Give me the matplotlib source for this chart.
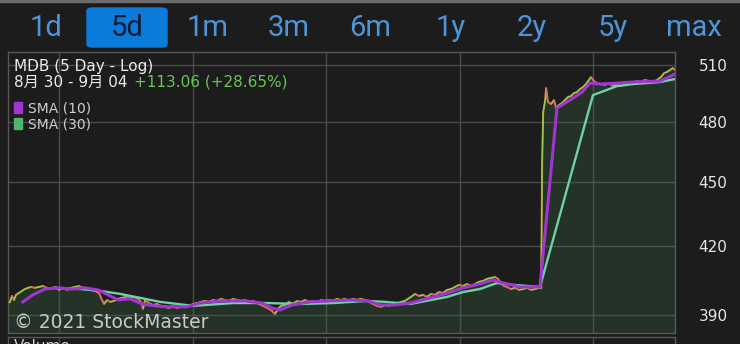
"""
MDB 5-day log chart (StockMaster style) rebuilt with matplotlib.
"""

import matplotlib

matplotlib.use("Agg")
import matplotlib.pyplot as plt
from matplotlib.collections import LineCollection
from matplotlib.patches import FancyBboxPatch, Rectangle
from matplotlib.ticker import FixedLocator, NullLocator
import numpy as np


# time in trading days since Aug 30 open (0..5), price in USD
price_t = [
    0.000, 0.015, 0.030, 0.045, 0.060, 0.082, 0.105, 0.127, 0.150, 0.172,
    0.202, 0.232, 0.262, 0.292, 0.322, 0.352, 0.382, 0.412, 0.442, 0.472,
    0.502, 0.532, 0.562, 0.592, 0.622, 0.652, 0.682, 0.705, 0.720, 0.742,
    0.765, 0.795, 0.825, 0.855, 0.885, 0.915, 0.945, 0.975, 0.997,
    1.012, 1.027, 1.057, 1.087, 1.117, 1.147, 1.177, 1.207, 1.237, 1.267,
    1.297, 1.327, 1.357, 1.387, 1.417, 1.447, 1.477, 1.507, 1.537, 1.567,
    1.597, 1.627, 1.657, 1.687, 1.717, 1.747, 1.777, 1.807, 1.837, 1.867,
    1.897, 1.927, 1.957, 1.979, 2.001,
    2.024, 2.046, 2.076, 2.106, 2.136, 2.166, 2.196, 2.226, 2.256, 2.286,
    2.316, 2.346, 2.376, 2.406, 2.436, 2.466, 2.496, 2.526, 2.556, 2.586,
    2.616, 2.646, 2.676, 2.706, 2.736, 2.766, 2.796, 2.826, 2.856, 2.886,
    2.916, 2.946, 2.976, 2.999,
    3.021, 3.051, 3.081, 3.111, 3.141, 3.171, 3.201, 3.231, 3.261, 3.291,
    3.321, 3.351, 3.381, 3.411, 3.441, 3.471, 3.501, 3.531, 3.561, 3.591,
    3.621, 3.651, 3.673, 3.696, 3.718, 3.741, 3.771, 3.801, 3.831, 3.861,
    3.891, 3.921, 3.951, 3.981, 3.997,
    4.004, 4.012, 4.027, 4.034, 4.048, 4.071, 4.093, 4.108, 4.130, 4.153,
    4.175, 4.198, 4.220, 4.243, 4.265, 4.288, 4.310, 4.333, 4.355, 4.370,
    4.393, 4.415, 4.445, 4.475, 4.505, 4.535, 4.565, 4.595, 4.625, 4.655,
    4.685, 4.715, 4.745, 4.775, 4.805, 4.835, 4.865, 4.895, 4.918, 4.940,
    4.963, 4.985, 5.000,
]
price_v = [
    395.5, 395.5, 398.0, 396.3, 398.5, 399.3, 400.2, 401.0, 401.5, 401.9,
    401.5, 401.9, 402.3, 401.5, 401.0, 401.9, 400.6, 401.5, 400.6, 401.5,
    401.9, 402.3, 401.5, 401.0, 400.6, 400.2, 399.3, 396.3, 394.6, 396.3,
    395.5, 395.9, 396.8, 397.2, 397.6, 397.2, 397.6, 396.8, 395.5,
    392.5, 396.3, 395.0, 394.2, 394.6, 393.8, 393.4, 392.9, 393.8, 392.9,
    393.8, 393.4, 393.8, 394.6, 395.0, 395.5, 395.9, 395.5, 396.3, 395.9,
    396.8, 396.3, 395.9, 396.8, 396.3, 395.9, 396.3, 395.5, 395.9, 395.0,
    394.2, 393.4, 392.5, 391.7, 390.4,
    392.5, 393.8, 394.2, 395.5, 394.6, 395.9, 395.5, 396.3, 395.5, 395.9,
    395.5, 396.3, 395.9, 396.3, 395.9, 396.8, 396.3, 396.8, 395.9, 396.8,
    396.3, 396.8, 396.3, 395.5, 394.6, 393.8, 393.4, 394.2, 393.8, 394.6,
    395.0, 395.5, 395.9, 396.8,
    397.6, 398.9, 398.0, 398.5, 397.6, 398.9, 398.5, 399.7, 399.3, 400.6,
    401.0, 401.9, 402.8, 402.3, 403.2, 402.3, 403.2, 404.1, 404.5, 405.4,
    405.8, 406.2, 405.4, 403.6, 402.3, 401.9, 401.0, 401.5, 400.6, 401.0,
    401.5, 400.6, 401.0, 401.5, 401.5,
    459.1, 484.9, 491.2, 497.6, 490.1, 489.1, 491.2, 487.0, 488.6, 489.6,
    491.2, 492.8, 493.3, 494.9, 495.4, 497.0, 498.1, 499.7, 501.9, 503.5,
    501.3, 500.2, 499.7, 499.2, 500.2, 498.6, 499.7, 498.6, 499.7, 500.8,
    500.2, 501.3, 500.8, 501.9, 501.3, 500.8, 501.9, 503.5, 505.6, 506.2,
    507.3, 508.4, 507.3,
]

sma10_t = [
    0.112, 0.187, 0.277, 0.375, 0.480, 0.577, 0.675, 0.750, 0.825, 0.915,
    1.005, 1.102, 1.214, 1.342, 1.439, 1.589, 1.777, 1.904, 1.979, 2.039,
    2.129, 2.264, 2.414, 2.564, 2.699, 2.789, 2.901, 3.013, 3.163, 3.298,
    3.411, 3.538, 3.636, 3.711, 3.838, 3.988, 4.115, 4.213, 4.303, 4.363,
    4.438, 4.565, 4.685, 4.888, 5.000,
]
sma10_v = [
    395.5, 398.5, 401.0, 401.5, 401.0, 401.5, 400.6, 398.5, 396.3, 396.8,
    394.6, 393.8, 393.4, 393.4, 395.0, 395.9, 395.9, 395.0, 392.9, 392.1,
    394.2, 395.5, 395.9, 396.3, 395.9, 394.2, 394.2, 395.0, 397.2, 399.3,
    401.5, 403.2, 404.9, 403.6, 401.9, 401.9, 487.0, 491.2, 495.4, 500.2,
    499.7, 500.2, 500.8, 501.3, 505.1,
]

sma30_t = [
    0.367, 0.540, 0.690, 0.840, 0.990, 1.139, 1.387, 1.687, 1.942, 2.189,
    2.436, 2.691, 2.826, 3.013, 3.291, 3.411, 3.538, 3.666, 3.786, 3.988,
    4.385, 4.565, 4.685, 4.888, 5.000,
]
sma30_v = [
    401.5, 401.0, 400.2, 398.9, 397.2, 395.5, 393.8, 395.0, 395.0, 394.6,
    395.0, 395.9, 395.5, 394.6, 397.6, 399.7, 401.0, 403.6, 402.8, 401.9,
    493.8, 498.6, 499.7, 500.8, 502.4,
]

y_ticks = [390, 420, 450, 480, 510]
period_tabs = ["1d", "5d", "1m", "3m", "6m", "1y", "2y", "5y", "max"]
selected_tab = "5d"
title_text = "MDB (5 Day - Log)"
range_text = "8月 30 - 9月 04"
change_text = "+113.06 (+28.65%)"
legend_labels = ["SMA (10)", "SMA (30)"]

W, H = 740, 344
BG = "#1c1c1c"
GRID = "#4a4a4a"
TAB_BLUE = "#4d95d8"
PURPLE = "#a235d2"
MINT = "#6fd2a6"
UP = "#8fd24e"
DOWN = "#e4587a"


def fx(px):
    return px / W


def fy(py):
    return 1 - py / H


def draw_header(fig):
    # thin light strip at the very top of the screenshot
    fig.patches.append(Rectangle((0, fy(2)), 1, 2 / H, transform=fig.transFigure,
                                 color="#6b6b6b", zorder=0))
    for i, tab in enumerate(period_tabs):
        cx = 46 + i * 81
        if tab == selected_tab:
            box = FancyBboxPatch((fx(cx - 40), fy(47)), fx(80), 39 / H,
                                 boxstyle="round,pad=0,rounding_size=0.008",
                                 transform=fig.transFigure, color="#0b7bd9", zorder=1)
            fig.patches.append(box)
            color = "#0c1c38"
        else:
            color = TAB_BLUE
        fig.text(fx(cx), fy(28), tab, ha="center", va="center", fontsize=21,
                 color=color, family=["Roboto", "DejaVu Sans"], zorder=2)


def draw_annotations(fig):
    cjk = ["DejaVu Sans", "Noto Sans CJK JP"]
    fig.text(fx(14), fy(66), title_text, ha="left", va="center", fontsize=11,
             color="#ececec", family=cjk)
    fig.text(fx(14), fy(82), range_text, ha="left", va="center", fontsize=11,
             color="#ececec", family=cjk)
    fig.text(fx(134), fy(82), change_text, ha="left", va="center", fontsize=11,
             color="#63c84f", family=cjk)

    for i, (label, col) in enumerate(zip(legend_labels, [PURPLE, "#4fb46c"])):
        cy = 108 + i * 16
        fig.patches.append(Rectangle((fx(14), fy(cy + 5)), fx(8), 11 / H,
                                     transform=fig.transFigure, color=col, zorder=5))
        fig.text(fx(28), fy(cy), label, ha="left", va="center", fontsize=10,
                 color="#cfcfcf")

    fig.text(fx(14), fy(323), "\u00a9 2021 StockMaster", ha="left", va="center",
             fontsize=13.5, color="#c9c9c9", zorder=6)
    # volume panel title, only its top shows in the crop (as in the screenshot)
    fig.text(fx(14), fy(339), "Volume", ha="left", va="top", fontsize=11,
             color="#d0d0d0")


def style_axes(ax, noons):
    ax.set_facecolor(BG)
    for side in ax.spines.values():
        side.set_color("#585858")
        side.set_linewidth(1.0)
    for x in noons:
        ax.axvline(x, color=GRID, lw=1.0, zorder=0)
    ax.set_xlim(0, 5)
    ax.set_xticks([])


def build_figure():
    fig = plt.figure(figsize=(W / 100, H / 100), dpi=100, facecolor=BG)
    noons = [d + 2.5 / 6.5 for d in range(5)]

    ax = fig.add_axes([fx(8), fy(333), fx(667), 281 / H])
    style_axes(ax, noons)
    ax.set_yscale("log")
    ax.set_ylim(382.5, 517.2)
    ax.yaxis.set_major_locator(FixedLocator(y_ticks))
    ax.yaxis.set_minor_locator(NullLocator())
    ax.set_yticklabels([str(v) for v in y_ticks])
    ax.yaxis.tick_right()
    ax.tick_params(axis="y", length=0, pad=17, labelsize=11, labelcolor="#e6e6e6")
    for v in y_ticks:
        ax.axhline(v, color=GRID, lw=1.0, zorder=0)

    t = np.array(price_t)
    p = np.array(price_v)
    ax.fill_between(t, p, 382.5, color="#3c6e46", alpha=0.28, lw=0, zorder=1)

    ax.plot(t, p, color="#d9a444", lw=1.4, alpha=0.9, zorder=2)
    pts = np.column_stack([t, p])
    segs = np.stack([pts[:-1], pts[1:]], axis=1)
    seg_colors = [UP if b >= a else DOWN for a, b in zip(p[:-1], p[1:])]
    ax.add_collection(LineCollection(segs, colors=seg_colors, linewidths=0.9,
                                     alpha=0.85, zorder=3))

    ax.plot(sma30_t, sma30_v, color=MINT, lw=1.7, zorder=4)
    ax.plot(sma10_t, sma10_v, color=PURPLE, lw=2.2, zorder=4)

    # volume panel, only its top edge shows in the crop
    vol = fig.add_axes([fx(8), fy(337) - 0.2, fx(667), 0.2])
    style_axes(vol, noons)
    vol.set_yticks([])

    draw_header(fig)
    draw_annotations(fig)
    return fig


def main():
    fig = build_figure()
    fig.savefig("out.png", dpi=100, facecolor=BG)
    plt.close(fig)


if __name__ == "__main__":
    main()
